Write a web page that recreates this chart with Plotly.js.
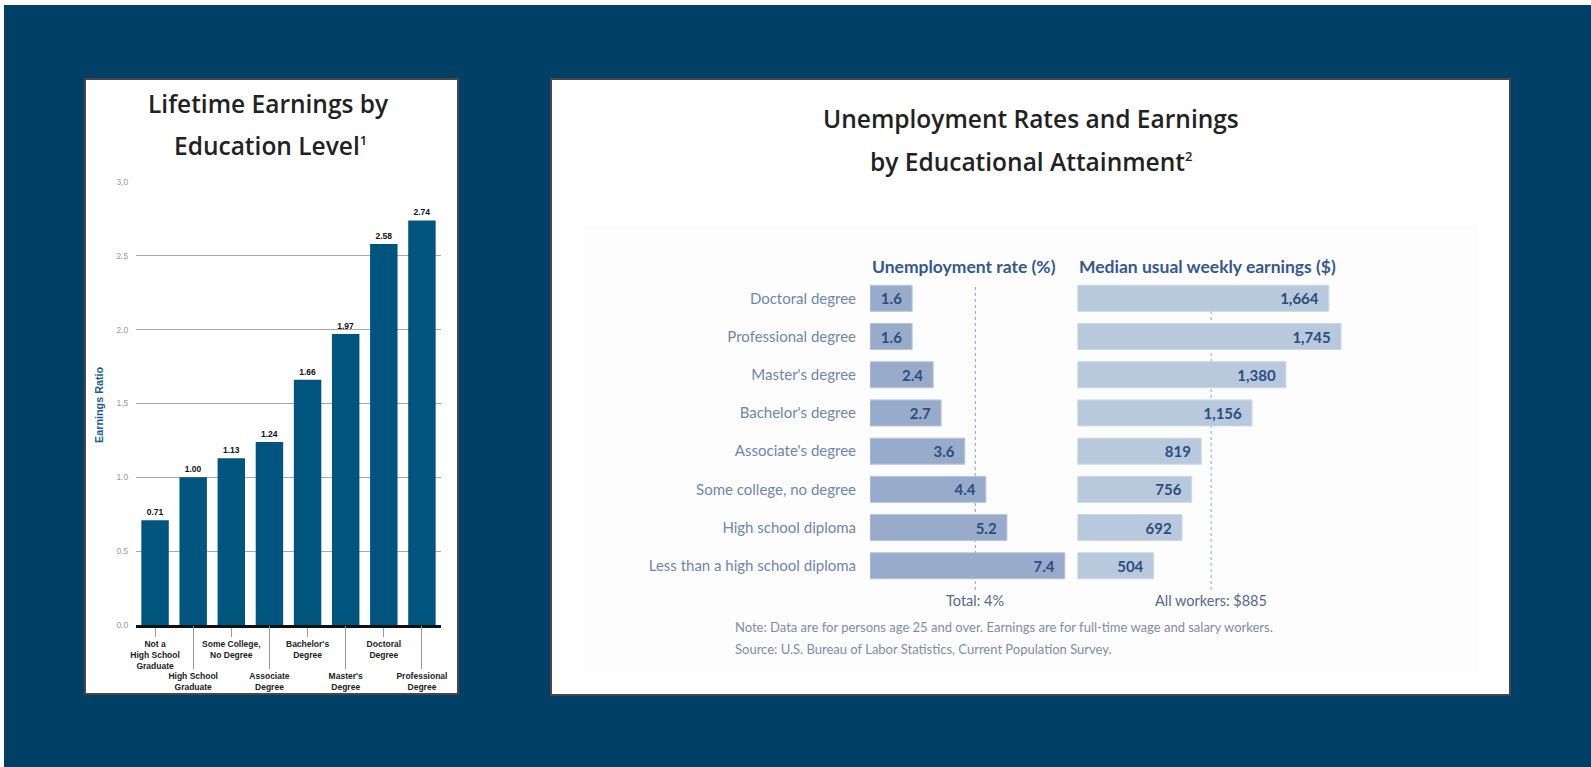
<!DOCTYPE html>
<html>
<head>
<meta charset="utf-8">
<script src="https://cdn.plot.ly/plotly-3.0.1.min.js"></script>
<style>
html,body{margin:0;padding:0;background:#003f66;overflow:hidden;}
#chart{width:1591px;height:767px;}
</style>
</head>
<body>
<div id="chart"></div>
<script>
// ---------- Data ----------
// Left chart: lifetime earnings ratio
const lifetimeCategories = [
  "Not a<br>High School<br>Graduate",
  "High School<br>Graduate",
  "Some College,<br>No Degree",
  "Associate<br>Degree",
  "Bachelor's<br>Degree",
  "Master's<br>Degree",
  "Doctoral<br>Degree",
  "Professional<br>Degree"
];
const earningsRatio = [0.71, 1.00, 1.13, 1.24, 1.66, 1.97, 2.58, 2.74];
const ratioTicks = [0, 0.5, 1.0, 1.5, 2.0, 2.5, 3.0];

// Right chart: unemployment & weekly earnings
const attainment = [
  "Doctoral degree",
  "Professional degree",
  "Master's degree",
  "Bachelor's degree",
  "Associate's degree",
  "Some college, no degree",
  "High school diploma",
  "Less than a high school diploma"
];
const unemploymentRate = [1.6, 1.6, 2.4, 2.7, 3.6, 4.4, 5.2, 7.4];
const weeklyEarnings = [1664, 1745, 1380, 1156, 819, 756, 692, 504];
const totalUnemployment = 4;
const allWorkersEarnings = 885;

// ---------- Layout helpers ----------
const W = 1591, H = 767;
const px = x => x / W;
const py = y => 1 - y / H;
const NB = "\u00a0\u00a0";

const evenIdx = [0, 2, 4, 6], oddIdx = [1, 3, 5, 7];
const evenCats = evenIdx.map(i => lifetimeCategories[i]);
const oddCats = oddIdx.map(i => lifetimeCategories[i]);

const leftFont = "Liberation Sans, Arial, sans-serif";
const rightFont = "Lato, Open Sans, sans-serif";
const titleFont = "Open Sans, Lato, sans-serif";
const SUP = n => '<sup><span style="font-size:13px">' + n + '</span></sup>';

const traces = [
  {
    type: "bar", x: lifetimeCategories, y: earningsRatio, xaxis: "x", yaxis: "y",
    width: 0.72,
    marker: {color: "#00557f"},
    text: earningsRatio.map(v => v.toFixed(2)), textposition: "outside",
    textfont: {family: leftFont, size: 8.5, color: "#111", weight: "bold"},
    cliponaxis: false, hoverinfo: "skip", showlegend: false
  },
  {
    type: "scatter", mode: "markers", x: lifetimeCategories, y: earningsRatio,
    xaxis: "x3", yaxis: "y", marker: {opacity: 0}, hoverinfo: "skip", showlegend: false
  },
  {
    type: "bar", orientation: "h", x: unemploymentRate, y: attainment,
    xaxis: "x2", yaxis: "y2", width: 0.68,
    marker: {color: "#98abcb", line: {color: "#b7c5dc", width: 1}},
    texttemplate: "%{x:.1f}" + NB, textposition: "inside", insidetextanchor: "end",
    textfont: {family: rightFont, size: 15, color: "#2e4d7e", weight: "bold"},
    hoverinfo: "skip", showlegend: false
  },
  {
    type: "bar", orientation: "h", x: weeklyEarnings, y: attainment,
    xaxis: "x4", yaxis: "y2", width: 0.68,
    marker: {color: "#b8c8dd", line: {color: "#ccd7e7", width: 1}},
    texttemplate: "%{x:,}" + NB, textposition: "inside", insidetextanchor: "end",
    textfont: {family: rightFont, size: 15, color: "#2e4d7e", weight: "bold"},
    hoverinfo: "skip", showlegend: false
  }
];

const hiddenX = {showgrid: false, zeroline: false, showticklabels: false, showline: false, ticks: ""};

const layout = {
  width: W, height: H,
  margin: {l: 0, r: 0, t: 0, b: 0, pad: 0},
  paper_bgcolor: "#003f66",
  plot_bgcolor: "rgba(0,0,0,0)",
  showlegend: false,
  xaxis: {
    domain: [px(136), px(441)], anchor: "y", type: "category",
    categoryorder: "array", categoryarray: lifetimeCategories,
    range: [-0.5, 7.5], fixedrange: true,
    tickmode: "array", tickvals: evenCats, ticktext: evenCats, tickangle: 0,
    ticks: "outside", ticklen: 9, tickwidth: 1, tickcolor: "#999",
    showline: true, linecolor: "#111", linewidth: 3,
    showgrid: false, zeroline: false,
    tickfont: {family: leftFont, size: 8.5, color: "#222", weight: "bold"}
  },
  xaxis3: {
    domain: [px(136), px(441)], anchor: "y", overlaying: "x", type: "category",
    categoryorder: "array", categoryarray: lifetimeCategories,
    range: [-0.5, 7.5], fixedrange: true,
    tickmode: "array", tickvals: oddCats, ticktext: oddCats, tickangle: 0,
    ticks: "outside", ticklen: 43, tickwidth: 1, tickcolor: "#999",
    showline: false, showgrid: false, zeroline: false,
    tickfont: {family: leftFont, size: 8.5, color: "#222", weight: "bold"}
  },
  yaxis: {
    domain: [py(625), py(182)], anchor: "x", range: [0, 3], fixedrange: true,
    tickmode: "array", tickvals: ratioTicks, tickformat: ".1f",
    ticks: "outside", ticklen: 5, tickcolor: "rgba(0,0,0,0)",
    showgrid: true, gridcolor: "#a8a8a8", gridwidth: 1, zeroline: false, showline: false,
    tickfont: {family: leftFont, size: 8.5, color: "#999"}
  },
  xaxis2: Object.assign({domain: [px(870), px(1070)], anchor: "y2", range: [0, 7.596]}, hiddenX),
  xaxis4: Object.assign({domain: [px(1077.5), px(1345)], anchor: "y2", range: [0, 1771.5]}, hiddenX),
  yaxis2: {
    domain: [py(584.9), py(279.2)], anchor: "x2", type: "category",
    categoryorder: "array", categoryarray: attainment, range: [7.5, -0.5],
    ticks: "outside", ticklen: 10, tickcolor: "rgba(0,0,0,0)",
    showgrid: false, zeroline: false, showline: false,
    tickfont: {family: rightFont, size: 15, color: "#6f86ad"}
  },
  shapes: [
    {type: "rect", xref: "paper", yref: "paper", x0: 0, x1: 1, y0: py(5), y1: 1, fillcolor: "#ffffff", line: {width: 0}, layer: "below"},
    {type: "rect", xref: "paper", yref: "paper", x0: 0, x1: px(4), y0: 0, y1: 1, fillcolor: "#ffffff", line: {width: 0}, layer: "below"},
    {type: "rect", xref: "paper", yref: "paper", x0: px(85), x1: px(458), y0: py(694), y1: py(79), fillcolor: "#ffffff", line: {color: "#474747", width: 2}, layer: "below"},
    {type: "rect", xref: "paper", yref: "paper", x0: px(551), x1: px(1510), y0: py(695), y1: py(79), fillcolor: "#ffffff", line: {color: "#474747", width: 2}, layer: "below"},
    {type: "rect", xref: "paper", yref: "paper", x0: px(584), x1: px(1477), y0: py(673), y1: py(225), fillcolor: "#fdfdfd", line: {width: 0}, layer: "below"},
    {type: "line", xref: "x2", yref: "paper", x0: totalUnemployment, x1: totalUnemployment, y0: py(590), y1: py(284), line: {color: "#8ea2c2", width: 1, dash: "dot"}, layer: "below"},
    {type: "line", xref: "x4", yref: "paper", x0: allWorkersEarnings, x1: allWorkersEarnings, y0: py(590), y1: py(284), line: {color: "#8ea2c2", width: 1, dash: "dot"}, layer: "below"}
  ],
  annotations: [
    {text: "Lifetime Earnings by", xref: "paper", yref: "paper", x: px(268), y: py(103), xanchor: "center", yanchor: "middle", showarrow: false,
     font: {family: titleFont, size: 24.5, color: "#222", weight: 600}},
    {text: "Education Level" + SUP(1), xref: "paper", yref: "paper", x: px(270), y: py(146), xanchor: "center", yanchor: "middle", showarrow: false,
     font: {family: titleFont, size: 24.5, color: "#222", weight: 600}},
    {text: "Unemployment Rates and Earnings", xref: "paper", yref: "paper", x: px(1031), y: py(118), xanchor: "center", yanchor: "middle", showarrow: false,
     font: {family: titleFont, size: 24.5, color: "#222", weight: 600}},
    {text: "by Educational Attainment" + SUP(2), xref: "paper", yref: "paper", x: px(1031), y: py(162), xanchor: "center", yanchor: "middle", showarrow: false,
     font: {family: titleFont, size: 24.5, color: "#222", weight: 600}},
    {text: "Earnings Ratio", xref: "paper", yref: "paper", x: px(99), y: py(405), textangle: -90, xanchor: "center", yanchor: "middle", showarrow: false,
     font: {family: leftFont, size: 10.8, color: "#1d5a8e", weight: "bold"}},
    {text: "Unemployment rate (%)", xref: "paper", yref: "paper", x: px(870), y: py(266), xanchor: "left", yanchor: "middle", showarrow: false,
     font: {family: rightFont, size: 17.5, color: "#34588f", weight: "bold"}},
    {text: "Median usual weekly earnings ($)", xref: "paper", yref: "paper", x: px(1077), y: py(266), xanchor: "left", yanchor: "middle", showarrow: false,
     font: {family: rightFont, size: 17.5, color: "#34588f", weight: "bold"}},
    {text: "Total: " + totalUnemployment + "%", xref: "x2", yref: "paper", x: totalUnemployment, y: py(600), xanchor: "center", yanchor: "middle", showarrow: false,
     font: {family: rightFont, size: 14.5, color: "#56698a"}},
    {text: "All workers: $" + allWorkersEarnings, xref: "x4", yref: "paper", x: allWorkersEarnings, y: py(600), xanchor: "center", yanchor: "middle", showarrow: false,
     font: {family: rightFont, size: 14.5, color: "#56698a"}},
    {text: "Note: Data are for persons age 25 and over. Earnings are for full-time wage and salary workers.", xref: "paper", yref: "paper", x: px(733), y: py(627), xanchor: "left", yanchor: "middle", showarrow: false,
     font: {family: rightFont, size: 13, color: "#7d8ca6"}},
    {text: "Source: U.S. Bureau of Labor Statistics, Current Population Survey.", xref: "paper", yref: "paper", x: px(733), y: py(649), xanchor: "left", yanchor: "middle", showarrow: false,
     font: {family: rightFont, size: 13, color: "#7d8ca6"}}
  ]
};

Plotly.newPlot("chart", traces, layout, {staticPlot: true, displayModeBar: false});
</script>
</body>
</html>
